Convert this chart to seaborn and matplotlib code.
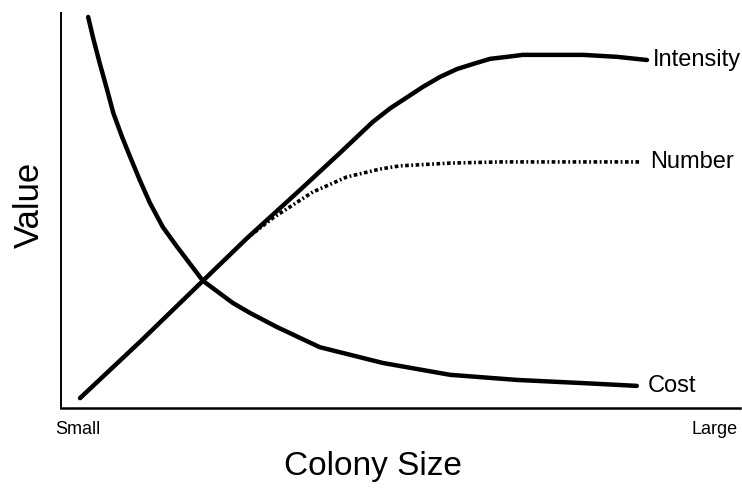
import numpy as np
import pandas as pd
import matplotlib
matplotlib.use("Agg")
import matplotlib.pyplot as plt
import seaborn as sns

# values (axis runs 0..10 in both directions)
intensity_x = [0.28, 1.16, 2.09, 2.74, 3.52, 4.11, 4.59, 4.85, 5.10, 5.33, 5.58, 5.83,
               6.07, 6.32, 6.57, 6.80, 7.20, 7.69, 8.19, 8.63]
intensity_y = [0.25, 1.67, 3.22, 4.30, 5.52, 6.46, 7.24, 7.59, 7.87, 8.13, 8.38, 8.58,
               8.71, 8.84, 8.89, 8.94, 8.94, 8.94, 8.89, 8.81]

number_x = [0.28, 1.16, 2.09, 2.74, 3.12, 3.37, 3.71, 4.21, 4.70, 4.99, 5.73, 6.47, 7.35, 8.53]
number_y = [0.25, 1.67, 3.22, 4.30, 4.81, 5.09, 5.47, 5.85, 6.05, 6.13, 6.20, 6.23, 6.23, 6.23]

cost_x = [0.40, 0.47, 0.57, 0.68, 0.77, 0.90, 1.02, 1.16, 1.31, 1.50, 1.71, 2.09,
          2.53, 2.78, 3.18, 3.81, 4.74, 5.73, 6.72, 7.69, 8.48]
cost_y = [9.90, 9.39, 8.73, 8.05, 7.47, 6.86, 6.35, 5.77, 5.19, 4.58, 4.08, 3.22,
          2.66, 2.41, 2.05, 1.54, 1.14, 0.84, 0.71, 0.63, 0.56]

end_labels = ["Intensity", "Number", "Cost"]
label_offsets = [4, 7, 8]

sns.set_theme(style="white")
plt.rcParams['font.family'] = ['Liberation Sans', 'DejaVu Sans']
plt.rcParams['text.color'] = 'black'
plt.rcParams['axes.labelcolor'] = 'black'

fig = plt.figure(figsize=(7.42, 4.95), dpi=100)
ax = fig.add_axes([61 / 742, 87 / 495, 679 / 742, 395 / 495])

sns.lineplot(x=number_x, y=number_y, ax=ax, color='black', lw=2.6,
             linestyle=(0, (1.0, 0.7, 0.5, 0.7)), zorder=2)
sns.lineplot(x=intensity_x, y=intensity_y, ax=ax, color='black', lw=3.2,
             solid_capstyle='round', solid_joinstyle='round', zorder=3)
sns.lineplot(x=cost_x, y=cost_y, ax=ax, color='black', lw=3.2,
             solid_capstyle='round', solid_joinstyle='round', zorder=3)

series = [(intensity_x, intensity_y), (number_x, number_y), (cost_x, cost_y)]
for (xs, ys), lab, off in zip(series, end_labels, label_offsets):
    ax.annotate(lab, xy=(xs[-1], ys[-1]), xytext=(off, 0), textcoords='offset points',
                va='center', ha='left', fontsize=17, color='black')

ax.set_xlim(0, 10)
ax.set_ylim(0, 10)
ax.set_xticks([])
ax.set_yticks([])
sns.despine(ax=ax)
ax.spines['left'].set_linewidth(1.4)
ax.spines['bottom'].set_linewidth(1.8)
ax.spines['left'].set_color('black')
ax.spines['bottom'].set_color('black')

ax.text(-0.009, -0.055, "Small", transform=ax.transAxes, ha='left', va='center', fontsize=13)
ax.text(0.997, -0.055, "Large", transform=ax.transAxes, ha='right', va='center', fontsize=13)

ax.set_xlabel("Colony Size", fontsize=24)
ax.xaxis.set_label_coords(0.46, -0.11)
ax.set_ylabel("Value", fontsize=25)
ax.yaxis.set_label_coords(-0.022, 0.514)

fig.savefig("out.png", dpi=100)
